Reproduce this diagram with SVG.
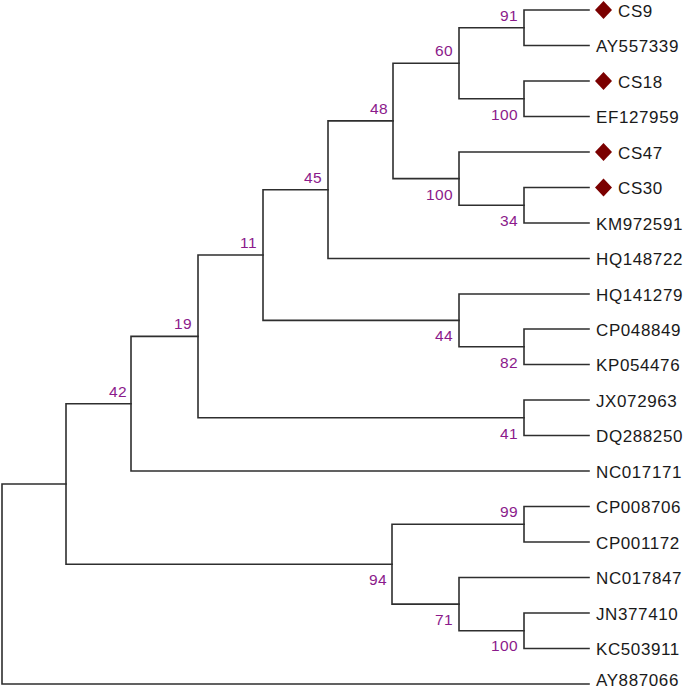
<svg xmlns="http://www.w3.org/2000/svg" width="685" height="690" viewBox="0 0 685 690">
<defs>
<style>
.br{fill:none;stroke:#2e2e2e;stroke-width:1.6;stroke-linecap:square}
.lf{font-family:"Liberation Sans",Arial,sans-serif;font-size:17px;fill:#1a1a1a;letter-spacing:0.6px}
.bs{font-family:"Liberation Sans",Arial,sans-serif;font-size:15.5px;fill:#8b1a8b;text-anchor:end;letter-spacing:0.4px}
.dm{fill:#7b0000}
</style>
<path id="dia" class="dm" d="M0 -9 L8.5 0 L0 9 L-8.5 0 Z"/>
</defs>
<rect width="685" height="690" fill="#ffffff"/>
<g id="connectors" class="br">
<path d="M524 10V45.5M524 10H589M524 45.5H589"/>
<path d="M524 81V116.5M524 81H589M524 116.5H589"/>
<path d="M459 27.75V98.75M459 27.75H524M459 98.75H524"/>
<path d="M524 187.5V223M524 187.5H589M524 223H589"/>
<path d="M459 152V205.25M459 152H589M459 205.25H524"/>
<path d="M393 63.25V178.6M393 63.25H459M393 178.6H459"/>
<path d="M328 120.9V258.5M328 120.9H393M328 258.5H589"/>
<path d="M524 329V364.5M524 329H589M524 364.5H589"/>
<path d="M459 294V346.75M459 294H589M459 346.75H524"/>
<path d="M263 189.7V320.4M263 189.7H328M263 320.4H459"/>
<path d="M524 400V435.5M524 400H589M524 435.5H589"/>
<path d="M198 255V417.75M198 255H263M198 417.75H524"/>
<path d="M131 336.4V471M131 336.4H198M131 471H589"/>
<path d="M524 506.5V542M524 506.5H589M524 542H589"/>
<path d="M524 613V648.5M524 613H589M524 648.5H589"/>
<path d="M459 577.5V630.75M459 577.5H589M459 630.75H524"/>
<path d="M392 524.25V604.1M392 524.25H524M392 604.1H459"/>
<path d="M66 403.7V564.2M66 403.7H131M66 564.2H392"/>
<path d="M2 484V684M2 484H66M2 684H589"/>
</g>
<g id="leaf-CS9"><use href="#dia" x="603.5" y="10"/><text class="lf" x="618" y="16.5">CS9</text></g>
<g id="leaf-AY557339"><text class="lf" x="596" y="52">AY557339</text></g>
<g id="leaf-CS18"><use href="#dia" x="603.5" y="81"/><text class="lf" x="618" y="87.5">CS18</text></g>
<g id="leaf-EF127959"><text class="lf" x="596" y="123">EF127959</text></g>
<g id="leaf-CS47"><use href="#dia" x="603.5" y="152"/><text class="lf" x="618" y="158.5">CS47</text></g>
<g id="leaf-CS30"><use href="#dia" x="603.5" y="187.5"/><text class="lf" x="618" y="194">CS30</text></g>
<g id="leaf-KM972591"><text class="lf" x="596" y="229.5">KM972591</text></g>
<g id="leaf-HQ148722"><text class="lf" x="596" y="265">HQ148722</text></g>
<g id="leaf-HQ141279"><text class="lf" x="596" y="300.5">HQ141279</text></g>
<g id="leaf-CP048849"><text class="lf" x="596" y="335.5">CP048849</text></g>
<g id="leaf-KP054476"><text class="lf" x="596" y="371">KP054476</text></g>
<g id="leaf-JX072963"><text class="lf" x="596" y="406.5">JX072963</text></g>
<g id="leaf-DQ288250"><text class="lf" x="596" y="442">DQ288250</text></g>
<g id="leaf-NC017171"><text class="lf" x="596" y="477.5">NC017171</text></g>
<g id="leaf-CP008706"><text class="lf" x="596" y="513">CP008706</text></g>
<g id="leaf-CP001172"><text class="lf" x="596" y="548.5">CP001172</text></g>
<g id="leaf-NC017847"><text class="lf" x="596" y="584">NC017847</text></g>
<g id="leaf-JN377410"><text class="lf" x="596" y="619.5">JN377410</text></g>
<g id="leaf-KC503911"><text class="lf" x="596" y="655">KC503911</text></g>
<g id="leaf-AY887066"><text class="lf" x="596" y="686">AY887066</text></g>
<g id="node-91"><text class="bs" x="518" y="20.75">91</text></g>
<g id="node-100a"><text class="bs" x="518" y="119.5">100</text></g>
<g id="node-60"><text class="bs" x="453" y="56.25">60</text></g>
<g id="node-34"><text class="bs" x="518" y="226">34</text></g>
<g id="node-100b"><text class="bs" x="453" y="199.5">100</text></g>
<g id="node-48"><text class="bs" x="388" y="114">48</text></g>
<g id="node-45"><text class="bs" x="322" y="182.5">45</text></g>
<g id="node-82"><text class="bs" x="518" y="367.5">82</text></g>
<g id="node-44"><text class="bs" x="453" y="341">44</text></g>
<g id="node-11"><text class="bs" x="257" y="248">11</text></g>
<g id="node-41"><text class="bs" x="518" y="438.5">41</text></g>
<g id="node-19"><text class="bs" x="192" y="329.4">19</text></g>
<g id="node-42"><text class="bs" x="127" y="396.7">42</text></g>
<g id="node-99"><text class="bs" x="518" y="517.25">99</text></g>
<g id="node-100c"><text class="bs" x="518" y="651">100</text></g>
<g id="node-71"><text class="bs" x="453" y="624.6">71</text></g>
<g id="node-94"><text class="bs" x="387" y="584.5">94</text></g>
<g id="node-root"/>
</svg>
